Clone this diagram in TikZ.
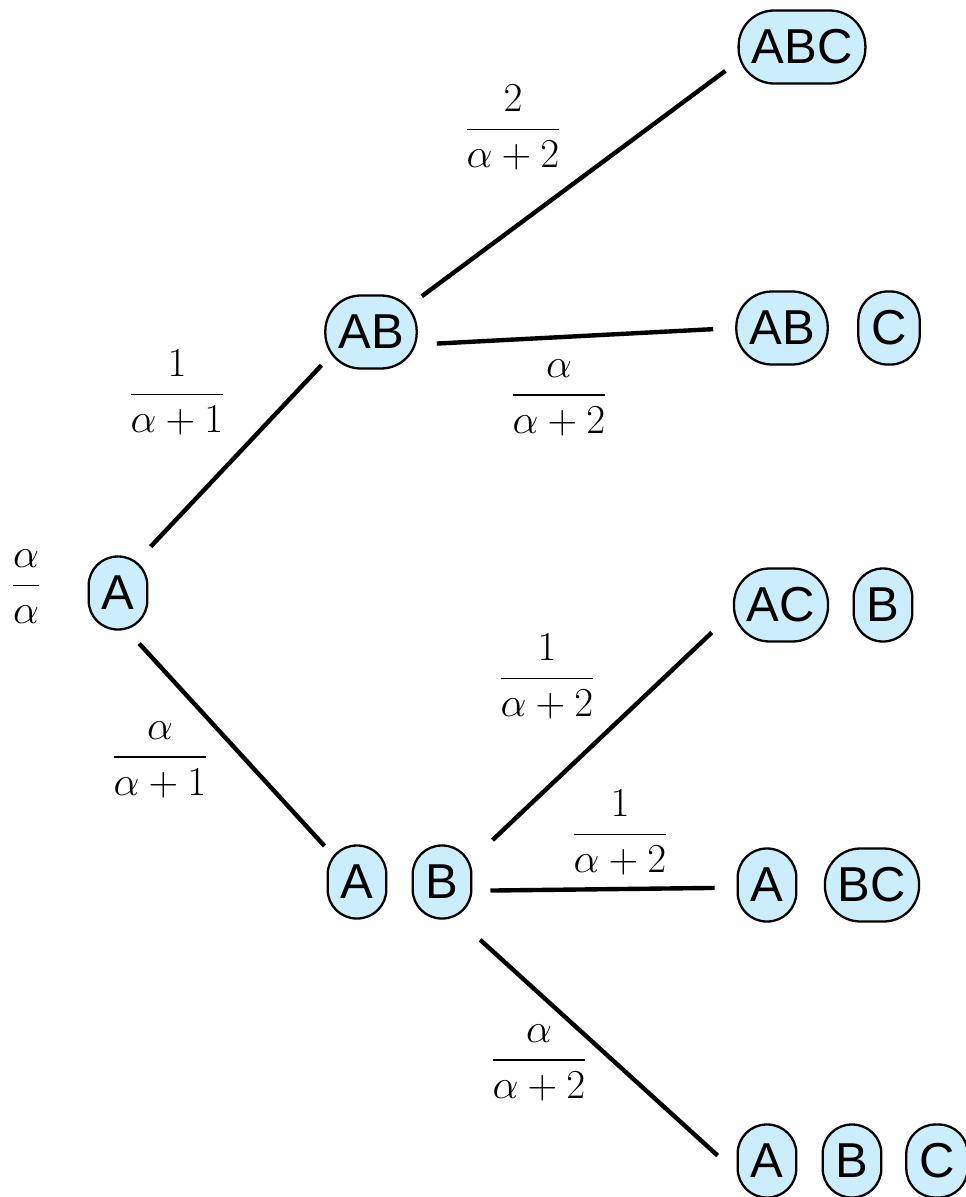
\RequirePackage{fix-cm}
\documentclass[tikz,border=0pt]{standalone}
\usepackage{amsmath}
\usepackage{fontspec}
\newfontfamily\statefont{Liberation Sans}
\usetikzlibrary{positioning}
\definecolor{statefill}{RGB}{204,238,252}

\begin{document}
\begin{tikzpicture}[
    x=0.02cm, y=-0.02cm,
    % Defining style for the partition nodes
    state/.style={
        rectangle,
        rounded corners=0.58cm,
        draw=black,
        fill=statefill,
        line width=1.3pt,
        inner xsep=0.26cm,
        minimum height=1.46cm,
        font=\fontsize{27.9pt}{30pt}\statefont
    },
    % Blocks with more than one element are rounder
    wide state/.style={
        state,
        rounded corners=0.71cm
    },
    % Defining style for the probabilities
    prob/.style={
        inner sep=0pt,
        font=\fontsize{23.4pt}{28pt}\selectfont
    },
    % Defining style for our edges
    edge style/.style={
        draw=black,
        line width=2.5pt
    }
]
    \useasboundingbox (0,0) rectangle (966,1197);

    % Root and first step
    \node[state] (root) at (118,593) {A};
    \node[wide state] (ab) at (371,332) {AB};
    \node[state] (a1) at (357,882) {A};
    \node[state] (b1) at (442,882) {B};

    % Second step
    \node[wide state] (abc) at (802,47) {ABC};
    \node[wide state] (ab2) at (782,328) {AB};
    \node[state] (c2) at (889,328) {C};
    \node[wide state] (ac3) at (781,605) {AC};
    \node[state] (b3) at (883,605) {B};
    \node[state] (a4) at (767,885) {A};
    \node[wide state] (bc4) at (872,885) {BC};
    \node[state] (a5) at (767,1161) {A};
    \node[state] (b5) at (852,1161) {B};
    \node[state] (c5) at (937,1161) {C};

    % Probabilities
    \node[prob] (p0) at (26,587) {$\dfrac{\alpha}{\alpha}$};
    \node[prob] (p1) at (177,393) {$\dfrac{1}{\alpha+1}$};
    \node[prob] (p2) at (160,760) {$\dfrac{\alpha}{\alpha+1}$};
    \node[prob] (p3) at (513,128) {$\dfrac{2}{\alpha+2}$};
    \node[prob] (p4) at (559,398) {$\dfrac{\alpha}{\alpha+2}$};
    \node[prob] (p5) at (547,677) {$\dfrac{1}{\alpha+2}$};
    \node[prob] (p6) at (620,833) {$\dfrac{1}{\alpha+2}$};
    \node[prob] (p7) at (539,1063) {$\dfrac{\alpha}{\alpha+2}$};

    % Draw edges between the partitions
    \begin{scope}[edge style]
        \draw[shorten <=0.24cm, shorten >=0.08cm] (root.57) -- (ab.213);
        \draw[shorten <=0.35cm, shorten >=0.06cm] (root.-76) -- (a1.132);
        \draw[shorten <=0.1cm, shorten >=0.3cm] (ab.35) -- (abc.193);
        \draw[shorten <=0.38cm, shorten >=0.44cm] (ab.-15) -- (ab2.180);
        \draw[shorten <=0.55cm, shorten >=0.58cm] (b1.37) -- (ac3.189);
        \draw[shorten <=0.36cm, shorten >=0.44cm] (b1.-16) -- (a4.185);
        \draw[shorten <=0.6cm, shorten >=0.51cm] (b1.-67) -- (a5.201);
    \end{scope}

\end{tikzpicture}
\end{document}
